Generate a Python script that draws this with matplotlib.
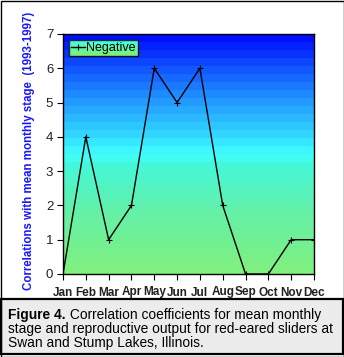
import numpy as np
import matplotlib
matplotlib.use('Agg')
import matplotlib.pyplot as plt
from matplotlib.colors import LinearSegmentedColormap
from matplotlib.patches import Rectangle

months = ['Jan', 'Feb', 'Mar', 'Apr', 'May', 'Jun', 'Jul', 'Aug', 'Sep', 'Oct', 'Nov', 'Dec']
negative = [0, 4, 1, 2, 6, 5, 6, 2, 0, 0, 1, 1]
yticks = [0, 1, 2, 3, 4, 5, 6, 7]

plt.rcParams['font.family'] = ['Liberation Sans', 'DejaVu Sans']

W, H = 344, 357
fig = plt.figure(figsize=(W / 100, H / 100), dpi=100)
ax = fig.add_axes([63 / W, 1 - 274 / H, 251 / W, 240 / H])

# banded blue -> cyan -> green background for the plot area
bg = LinearSegmentedColormap.from_list('bg', [
    (0.0, '#80f080'), (0.25, '#64f0a8'), (0.45, '#44f8d8'), (0.5, '#40ffff'),
    (0.6, '#30d0ff'), (0.75, '#2090ff'), (0.88, '#1050ff'), (1.0, '#0010ff')])
bands = np.linspace(0, 1, 30)[::-1].reshape(-1, 1)
ax.imshow(bands, cmap=bg, extent=[0, 11, 0, 7], aspect='auto',
          interpolation='nearest', zorder=0)

x = np.arange(len(months))
ax.plot(x, negative, color='black', lw=1, marker='+', ms=5, mew=0.8,
        label='Negative', zorder=3)

ax.set_xlim(0, 11)
ax.set_ylim(0, 7)
ax.set_xticks(x)
ax.set_xticklabels(months, fontsize=8.5, fontweight='bold', color='#222222')
ax.set_yticks(yticks)
ax.set_yticklabels([str(v) for v in yticks], fontsize=9.5, color='#222222')
ax.tick_params(axis='both', direction='out', length=4, width=0.8, pad=3)
ax.tick_params(axis='x', pad=5)
for s in ax.spines.values():
    s.set_linewidth(1)
    s.set_color('black')

leg = ax.legend(loc='upper left', fontsize=9, frameon=True, fancybox=False,
                borderpad=0.15, handlelength=1.1, handletextpad=0.1,
                borderaxespad=0.5, markerscale=1)
leg.get_frame().set_edgecolor('black')
leg.get_frame().set_linewidth(1)
leg.get_frame().set_facecolor('none')
leg.set_zorder(6)

fig.text(29 / W, 1 - 151 / H, 'Correlations with mean monthly stage  (1993-1997)',
         rotation=90, ha='center', va='center', fontsize=8.3,
         fontweight='bold', color='#1818ff')

# caption panel
fig.patches.append(Rectangle((1 / W, 3 / H), (W - 2) / W, (H - 302) / H,
                             transform=fig.transFigure, facecolor='#ececec',
                             edgecolor='black', lw=1.6, zorder=0))
fig.patches.append(Rectangle((0.5 / W, 0.5 / H), (W - 1) / W, (H - 1) / H,
                             transform=fig.transFigure, facecolor='none',
                             edgecolor='black', lw=1, zorder=0))

cap_size = 9.9
t1 = fig.text(8 / W, 1 - 315 / H, 'Figure 4.', fontsize=cap_size,
              fontweight='bold', va='center', ha='left')
fig.canvas.draw()
r = fig.canvas.get_renderer()
bb = t1.get_window_extent(r)
fig.text(bb.x1 / W, 1 - 315 / H, ' Correlation coefficients for mean monthly',
         fontsize=cap_size, va='center', ha='left')
fig.text(8 / W, 1 - 329 / H, 'stage and reproductive output for red-eared sliders at',
         fontsize=cap_size, va='center', ha='left')
fig.text(8 / W, 1 - 343 / H, 'Swan and Stump Lakes, Illinois.',
         fontsize=cap_size, va='center', ha='left')

# gradient fill behind the legend
lb = leg.get_window_extent(r).transformed(ax.transData.inverted())
lgrad = LinearSegmentedColormap.from_list('lg', ['#80f070', '#40fff0'])
ax.imshow(np.linspace(1, 0, 20).reshape(-1, 1), cmap=lgrad,
          extent=[lb.x0, lb.x1, lb.y0, lb.y1], aspect='auto', zorder=5)
ax.set_xlim(0, 11)
ax.set_ylim(0, 7)

fig.savefig('out.png', dpi=100)
